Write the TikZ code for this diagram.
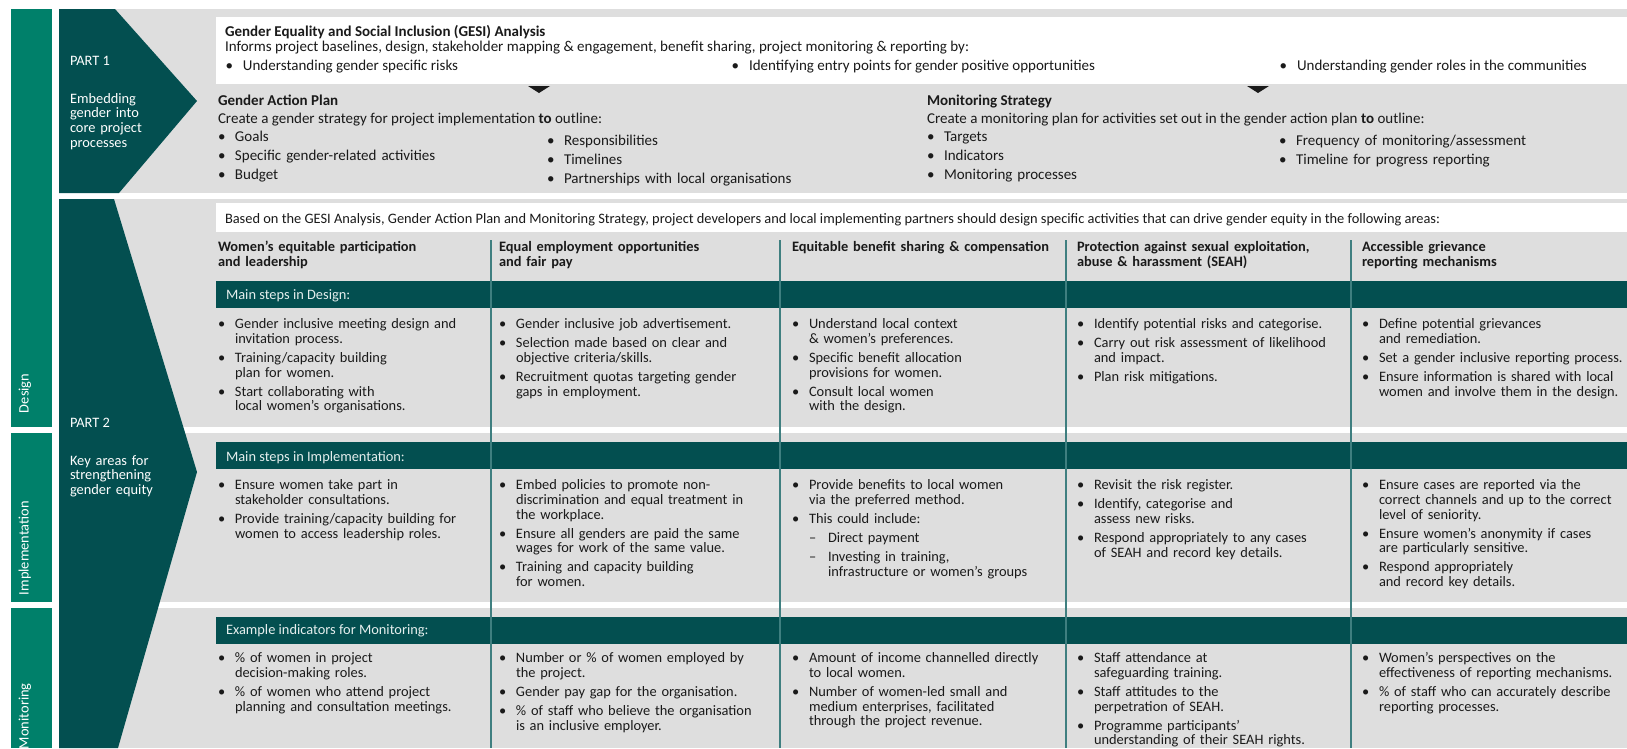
\documentclass[tikz,border=0pt]{standalone}
\usepackage{fontspec}
\setmainfont{Carlito}
\definecolor{barteal}{HTML}{00806A}
\definecolor{darkteal}{HTML}{034F50}
\definecolor{bandgray}{HTML}{DEDEDE}
\definecolor{septeal}{HTML}{3F7F80}
\definecolor{bartext}{HTML}{E4EEED}
\definecolor{bodytext}{HTML}{1A1A1A}
\newcommand{\fs}{\fontsize{14.4}{14.8}\selectfont}
\newcommand{\ft}{\fontsize{15}{14.8}\selectfont}
\newcommand{\bu}{\makebox[17pt][l]{\textbullet}}
\newcommand{\bub}{\makebox[17.5pt][l]{\textbullet}}
\newcommand{\ii}{\hspace*{17pt}}
\newcommand{\dd}{\hspace*{17pt}\makebox[19pt][l]{–}}
\newcommand{\dii}{\hspace*{36pt}}
\newcommand{\gap}{\\[4.2pt]}
\tikzset{
  txt/.style={anchor=base west, inner sep=0pt, outer sep=0pt, font=\fs, text=bodytext},
  ttxt/.style={txt, font=\ft},
  lst/.style={txt, text width=#1, align=left},
  lst/.default=290pt,
  tlst/.style={lst, font=\ft},
  hdr/.style={lst, font=\fs\bfseries},
  wtxt/.style={txt, text=white},
  bartxt/.style={txt, text=bartext},
  vlab/.style={txt, text=white, rotate=90},
}
\begin{document}
\begin{tikzpicture}[x=1pt,y=-1pt]
\useasboundingbox (0,0) rectangle (1627,748);
\fill[white] (0,0) rectangle (1627,748);
% left phase bar
\fill[barteal] (10.5,9) rectangle (52,427);
\fill[barteal] (10.5,433) rectangle (52,602);
\fill[barteal] (10.5,608) rectangle (52,748);
% grey bands
\fill[bandgray] (59,9) rectangle (1627,193);
\fill[bandgray] (59,199) rectangle (1627,427);
\fill[bandgray] (59,433) rectangle (1627,602);
\fill[bandgray] (59,608) rectangle (1627,748);
% part chevrons
\fill[darkteal] (59,9) -- (115,9) -- (197,101) -- (119,193) -- (59,193) -- cycle;
\fill[darkteal] (59,199) -- (114,199) -- (197,472) -- (118,748) -- (59,748) -- cycle;
% white boxes
\fill[white] (216,17) rectangle (1627,84);
\fill[white] (216,203) rectangle (1627,232);
% dark step bars
\fill[darkteal] (216,281) rectangle (1627,308);
\fill[darkteal] (216,442) rectangle (1627,469);
\fill[darkteal] (216,617) rectangle (1627,644);
% column separators
\foreach \x in {491,780,1066,1351} \draw[septeal, line width=1.4pt] (\x,240) -- (\x,748);
% small arrows
\fill[bodytext] (528,86) -- (550,86) -- (539,93) -- cycle;
\fill[bodytext] (1247,86) -- (1269,86) -- (1258,93) -- cycle;

% left labels
\node[vlab] (ldes) at (28.5,413) {Design};
\node[vlab] (limp) at (28.5,595) {Implementation};
\node[vlab] (lmon) at (28.5,749) {Monitoring};

% part labels
\node[wtxt] (p1) at (70,65) {PART 1};
\node[lst=120pt, text=white] (p1d) at (70,103) {Embedding\\gender into\\core project\\processes};
\node[wtxt] (p2) at (70,427.5) {PART 2};
\node[lst=120pt, text=white] (p2d) at (70,465) {Key areas for\\strengthening\\gender equity};

% GESI
\node[ttxt, font=\ft\bfseries] (gesi) at (225,36) {Gender Equality and Social Inclusion (GESI) Analysis};
\node[ttxt] (inf) at (225,51) {Informs project baselines, design, stakeholder mapping \& engagement, benefit sharing, project monitoring \& reporting by:};
\node[ttxt] (gb1) at (225.5,70) {\bub Understanding gender specific risks};
\node[ttxt] (gb2) at (731.5,70) {\bub Identifying entry points for gender positive opportunities};
\node[ttxt] (gb3) at (1279.5,70) {\bub Understanding gender roles in the communities};

% Gender action plan
\node[ttxt, font=\ft\bfseries] (gap) at (218,105) {Gender Action Plan};
\node[ttxt] (gapd) at (218,123.5) {Create a gender strategy for project implementation \textbf{to} outline:};
\node[tlst] (gapl) at (218,141.5) {\bu Goals\gap \bu Specific gender-related activities\gap \bu Budget};
\node[tlst] (gapr) at (547,145.5) {\bu Responsibilities\gap \bu Timelines\gap \bu Partnerships with local organisations};

% Monitoring strategy
\node[ttxt, font=\ft\bfseries] (ms) at (927,105) {Monitoring Strategy};
\node[ttxt] (msd) at (927,123.5) {Create a monitoring plan for activities set out in the gender action plan \textbf{to} outline:};
\node[tlst] (msl) at (927,141.5) {\bu Targets\gap \bu Indicators\gap \bu Monitoring processes};
\node[tlst] (msr) at (1279,145.5) {\bu Frequency of monitoring/assessment\gap \bu Timeline for progress reporting};

% Part 2 intro
\node[txt] (based) at (225,223.5) {Based on the GESI Analysis, Gender Action Plan and Monitoring Strategy, project developers and local implementing partners should design specific activities that can drive gender equity in the following areas:};

% headers
\node[hdr] (h1) at (218,251.5) {Women’s equitable participation\\and leadership};
\node[hdr] (h2) at (499,251.5) {Equal employment opportunities\\and fair pay};
\node[hdr] (h3) at (792,251.5) {Equitable benefit sharing \& compensation};
\node[hdr] (h4) at (1077,251.5) {Protection against sexual exploitation,\\abuse \& harassment (SEAH)};
\node[hdr] (h5) at (1362,251.5) {Accessible grievance\\reporting mechanisms};

% bar titles
\node[bartxt] (bd) at (226,299.5) {Main steps in Design:};
\node[bartxt] (bi) at (226,461) {Main steps in Implementation:};
\node[bartxt] (bm) at (226,634.5) {Example indicators for Monitoring:};

% Design
\node[lst] (d1) at (218,328.5) {\bu Gender inclusive meeting design and\\\ii invitation process.\gap \bu Training/capacity building\\\ii plan for women.\gap \bu Start collaborating with\\\ii local women’s organisations.};
\node[lst] (d2) at (499,328.5) {\bu Gender inclusive job advertisement.\gap \bu Selection made based on clear and\\\ii objective criteria/skills.\gap \bu Recruitment quotas targeting gender\\\ii gaps in employment.};
\node[lst] (d3) at (792,328.5) {\bu Understand local context\\\ii \& women’s preferences.\gap \bu Specific benefit allocation\\\ii provisions for women.\gap \bu Consult local women\\\ii with the design.};
\node[lst] (d4) at (1077,328.5) {\bu Identify potential risks and categorise.\gap \bu Carry out risk assessment of likelihood\\\ii and impact.\gap \bu Plan risk mitigations.};
\node[lst] (d5) at (1362,328.5) {\bu Define potential grievances\\\ii and remediation.\gap \bu Set a gender inclusive reporting process.\gap \bu Ensure information is shared with local\\\ii women and involve them in the design.};

% Implementation
\node[lst] (i1) at (218,489.5) {\bu Ensure women take part in\\\ii stakeholder consultations.\gap \bu Provide training/capacity building for\\\ii women to access leadership roles.};
\node[lst] (i2) at (499,489.5) {\bu Embed policies to promote non-\\\ii discrimination and equal treatment in\\\ii the workplace.\gap \bu Ensure all genders are paid the same\\\ii wages for work of the same value.\gap \bu Training and capacity building\\\ii for women.};
\node[lst] (i3) at (792,489.5) {\bu Provide benefits to local women\\\ii via the preferred method.\gap \bu This could include:\gap \dd Direct payment\gap \dd Investing in training,\\\dii infrastructure or women’s groups};
\node[lst] (i4) at (1077,489.5) {\bu Revisit the risk register.\gap \bu Identify, categorise and\\\ii assess new risks.\gap \bu Respond appropriately to any cases\\\ii of SEAH and record key details.};
\node[lst] (i5) at (1362,489.5) {\bu Ensure cases are reported via the\\\ii correct channels and up to the correct\\\ii level of seniority.\gap \bu Ensure women’s anonymity if cases\\\ii are particularly sensitive.\gap \bu Respond appropriately\\\ii and record key details.};

% Monitoring
\node[lst] (m1) at (218,662.5) {\bu \% of women in project\\\ii decision-making roles.\gap \bu \% of women who attend project\\\ii planning and consultation meetings.};
\node[lst] (m2) at (499,662.5) {\bu Number or \% of women employed by\\\ii the project.\gap \bu Gender pay gap for the organisation.\gap \bu \% of staff who believe the organisation\\\ii is an inclusive employer.};
\node[lst] (m3) at (792,662.5) {\bu Amount of income channelled directly\\\ii to local women.\gap \bu Number of women-led small and\\\ii medium enterprises, facilitated\\\ii through the project revenue.};
\node[lst] (m4) at (1077,662.5) {\bu Staff attendance at\\\ii safeguarding training.\gap \bu Staff attitudes to the\\\ii perpetration of SEAH.\gap \bu Programme participants’\\\ii understanding of their SEAH rights.};
\node[lst] (m5) at (1362,662.5) {\bu Women’s perspectives on the\\\ii effectiveness of reporting mechanisms.\gap \bu \% of staff who can accurately describe\\\ii reporting processes.};
\end{tikzpicture}
\end{document}
